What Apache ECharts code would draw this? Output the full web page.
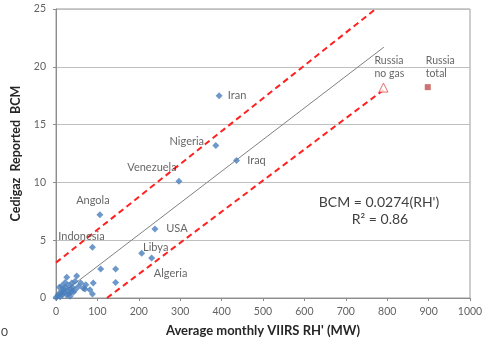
<!DOCTYPE html>
<html>
<head>
<meta charset="utf-8">
<script src="https://cdn.jsdelivr.net/npm/echarts@6/dist/echarts.min.js"></script>
<style>html,body{margin:0;padding:0;background:#fff}#c{width:491px;height:342px}</style>
</head>
<body>
<div id="c"></div>
<script>
// ---- data ----
var countryNames = ['Iran', 'Nigeria', 'Iraq', 'Venezuela', 'Angola', 'USA', 'Indonesia', 'Libya', 'Algeria'];
var countryX = [394, 386, 436, 297, 106, 239, 88, 207, 231];
var countryY = [17.5, 13.2, 11.9, 10.1, 7.2, 5.96, 4.4, 3.87, 3.46];

var clusterX = [108, 144, 144, 90, 88, 82, 72, 66, 60, 50, 46, 38, 26, 54, 70, 35, 30, 22, 14, 8, 6, 0, 10, 18, 26, 34, 22, 14, 42, 30, 40, 16, 4, 20, 12, 28, 46, 36];
var clusterY = [2.5, 2.5, 1.35, 1.3, 0.34, 0.72, 1.15, 0.85, 1.3, 1.9, 1.45, 1.3, 1.8, 1.0, 0.78, 0.77, 0.34, 0.92, 0.63, 0.92, 0.34, 0.05, 0.1, 0.49, 0.26, 0.15, 1.35, 1.06, 0.49, 1.1, 0.9, 0.3, 0.15, 0.7, 0.4, 0.6, 0.7, 0.5];

var russiaNoGas = {name: 'Russia\nno gas', x: 791, y: 18.2};
var russiaTotal = {name: 'Russia\ntotal', x: 898, y: 18.24};

var trendX = [0, 792];
var trendY = [0, 21.7];
var upperX = [0, 772];
var upperY = [3.06, 25];
var lowerX = [123, 791];
var lowerY = [0, 18.0];

var xTicks = [0, 100, 200, 300, 400, 500, 600, 700, 800, 900, 1000];
var yTicks = [0, 5, 10, 15, 20, 25];

// ---- styling (label offsets in px) ----
var labelOffsets = {
  'Iran': [18, 0], 'Nigeria': [-29, -4], 'Iraq': [20, 0], 'Venezuela': [-27, -14],
  'Angola': [-7, -14], 'USA': [22, -1], 'Indonesia': [-11, -11], 'Libya': [14, -6], 'Algeria': [19, 15]
};
var FONT = 'Lato, "Open Sans", sans-serif';
var TXT = '#404040';

function zip(a, b) { return a.map(function (v, i) { return [v, b[i]]; }); }

var countryData = countryNames.map(function (n, i) {
  return {
    name: n, value: [countryX[i], countryY[i]],
    label: { show: true, position: 'inside', offset: labelOffsets[n], formatter: n,
      color: TXT, fontSize: 11, fontFamily: FONT }
  };
});

var chart = echarts.init(document.getElementById('c'), null, {renderer: 'canvas'});
chart.setOption({
  animation: false,
  backgroundColor: '#fff',
  grid: { left: 56, right: 21, top: 9, bottom: 43, show: true, borderColor: '#9a9a9a', borderWidth: 1 },
  xAxis: {
    type: 'value', min: xTicks[0], max: xTicks[xTicks.length - 1], interval: 100,
    name: "Average monthly VIIRS RH' (MW)", nameLocation: 'middle', nameGap: 26,
    nameTextStyle: { fontFamily: FONT, fontWeight: 'bold', fontSize: 13, color: '#262626' },
    axisLine: { show: true, lineStyle: { color: '#8c8c8c' } },
    axisTick: { show: true, length: 3, lineStyle: { color: '#8c8c8c' } },
    axisLabel: { color: '#636363', fontSize: 10.5, fontFamily: FONT, margin: 8,
      formatter: function (v) { return String(v); } },
    splitLine: { show: false }
  },
  yAxis: {
    type: 'value', min: yTicks[0], max: yTicks[yTicks.length - 1], interval: 5,
    name: 'Cedigaz  Reported  BCM', nameLocation: 'middle', nameGap: 21,
    nameTextStyle: { fontFamily: FONT, fontWeight: 'bold', fontSize: 12.5, color: '#262626' },
    axisLine: { show: true, lineStyle: { color: '#8c8c8c' } },
    axisTick: { show: true, length: 3, lineStyle: { color: '#8c8c8c' } },
    axisLabel: { color: '#636363', fontSize: 10.5, fontFamily: FONT, margin: 10,
      formatter: function (v) { return String(v); } },
    splitLine: { show: true, lineStyle: { color: '#bfbfbf', width: 1 } }
  },
  graphic: [
    { type: 'text', x: 379, y: 202, style: { text: "BCM = 0.0274(RH')", align: 'center', verticalAlign: 'middle', font: '14px ' + FONT, fill: TXT } },
    { type: 'text', x: 380, y: 219, style: { text: 'R² = 0.86', align: 'center', verticalAlign: 'middle', font: '14px ' + FONT, fill: TXT } },
    { type: 'text', x: 1, y: 332, style: { text: '0', align: 'left', verticalAlign: 'middle', font: '12px ' + FONT, fill: '#404040' } }
  ],
  series: [
    { type: 'line', data: zip(trendX, trendY), symbol: 'none', z: 2,
      lineStyle: { color: '#808080', width: 1 } },
    { type: 'line', data: zip(upperX, upperY), symbol: 'none', z: 2, clip: true,
      lineStyle: { color: '#ff2020', width: 2, type: [6, 4] } },
    { type: 'line', data: zip(lowerX, lowerY), symbol: 'none', z: 2, clip: true,
      lineStyle: { color: '#ff2020', width: 2, type: [6, 4] } },
    { type: 'scatter', data: zip(clusterX, clusterY), symbol: 'diamond', symbolSize: 7, z: 3,
      itemStyle: { color: '#4a7ebb' } },
    { type: 'scatter', data: countryData, symbol: 'diamond', symbolSize: 7, z: 4,
      itemStyle: { color: '#4a7ebb' } },
    { type: 'scatter', z: 5,
      data: [{ name: russiaNoGas.name, value: [russiaNoGas.x, russiaNoGas.y] }],
      symbol: 'triangle', symbolSize: 9,
      itemStyle: { color: '#ffffff', borderColor: '#e0484a', borderWidth: 1 },
      label: { show: true, position: 'inside', align: 'left', offset: [-9, -20], formatter: russiaNoGas.name,
        color: TXT, fontSize: 10.5, lineHeight: 13, fontFamily: FONT } },
    { type: 'scatter', z: 5,
      data: [{ name: russiaTotal.name, value: [russiaTotal.x, russiaTotal.y] }],
      symbol: 'rect', symbolSize: 6,
      itemStyle: { color: '#c0504d' },
      label: { show: true, position: 'inside', align: 'left', offset: [-2, -20], formatter: russiaTotal.name,
        color: TXT, fontSize: 10.5, lineHeight: 13, fontFamily: FONT } }
  ]
});
</script>
</body>
</html>
